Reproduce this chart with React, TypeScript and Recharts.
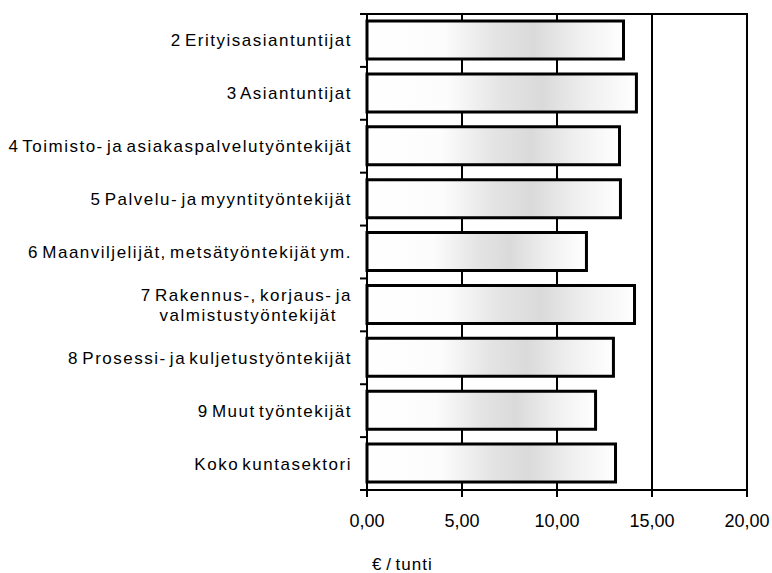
import React from "react";
import {
  Bar,
  BarChart,
  CartesianGrid,
  ReferenceArea,
  XAxis,
  YAxis,
} from "recharts";

// ammattiryhmät ja keskimääräinen €/tunti
const categories = [
  "2 Erityisasiantuntijat",
  "3 Asiantuntijat",
  "4 Toimisto- ja asiakaspalvelutyöntekijät",
  "5 Palvelu- ja myyntityöntekijät",
  "6 Maanviljelijät, metsätyöntekijät ym.",
  "7 Rakennus-, korjaus- ja\nvalmistustyöntekijät",
  "8 Prosessi- ja kuljetustyöntekijät",
  "9 Muut työntekijät",
  "Koko kuntasektori",
];
const values = [13.5, 14.18, 13.29, 13.34, 11.55, 14.08, 12.97, 12.03, 13.08];
const xTicks = [0, 5, 10, 15, 20];

const data = categories.map((name, i) => ({ name, value: values[i] }));

const W = 772;
const H = 573;
const TOP = 14;
const X_AXIS_H = 30;
const BOTTOM = 53;
const BAND = (H - TOP - X_AXIS_H - BOTTOM) / categories.length;
const FONT = '"Liberation Sans", Arial, sans-serif';

const fmt = (v: number) => v.toFixed(2).replace(".", ",");

function CategoryTick(props: any) {
  const { x, y, payload, index } = props;
  const lines = String(payload.value).split("\n");
  const axisX = x + 15;
  const half = BAND / 2;
  return (
    <g>
      <line x1={axisX - 7} x2={axisX} y1={y - half} y2={y - half} stroke="#000" strokeWidth={2} />
      {index === categories.length - 1 && (
        <line x1={axisX - 7} x2={axisX} y1={y + half} y2={y + half} stroke="#000" strokeWidth={2} />
      )}
      {lines.map((line, i) => (
        <text
          key={i}
          x={i === 0 ? x : x - 15}
          y={y + (i - (lines.length - 1) / 2) * 20}
          dy="0.35em"
          textAnchor="end"
          fill="#000"
          fontSize={17}
          letterSpacing={1.5}
          wordSpacing={-3}
          fontFamily={FONT}
        >
          {line}
        </text>
      ))}
    </g>
  );
}

export default function App() {
  return (
    <div style={{ position: "absolute", left: 0, top: 0, width: W, height: H, background: "#fff" }}>
      <BarChart
        width={W}
        height={H}
        data={data}
        layout="vertical"
        margin={{ top: TOP, right: 25, bottom: BOTTOM, left: 0 }}
      >
        <defs>
          <linearGradient id="scanFill" x1="0" y1="0" x2="1" y2="0">
            <stop offset="0%" stopColor="#ffffff" />
            <stop offset="30%" stopColor="#fcfcfc" />
            <stop offset="50%" stopColor="#e4e4e4" />
            <stop offset="65%" stopColor="#dadada" />
            <stop offset="82%" stopColor="#efefef" />
            <stop offset="100%" stopColor="#ffffff" />
          </linearGradient>
        </defs>
        <CartesianGrid horizontal={false} stroke="#000" strokeWidth={2} />
        <XAxis
          type="number"
          domain={[0, 20]}
          ticks={xTicks}
          tickFormatter={fmt}
          height={X_AXIS_H}
          stroke="#000"
          strokeWidth={2}
          tickSize={7}
          tickMargin={17}
          tick={{ fill: "#000", fontSize: 18, fontFamily: FONT }}
          label={{
            content: ({ viewBox }: any) => (
              <text
                x={viewBox.x + 5}
                y={viewBox.y + 80}
                fill="#000"
                fontSize={17}
                letterSpacing={1}
                wordSpacing={-2}
                fontFamily={FONT}
              >
                € / tunti
              </text>
            ),
          }}
        />
        <YAxis
          type="category"
          dataKey="name"
          width={367}
          tickLine={false}
          tickSize={15}
          tickMargin={0}
          stroke="#000"
          strokeWidth={2}
          interval={0}
          tick={<CategoryTick />}
        />
        <ReferenceArea x1={0} x2={20} fill="none" stroke="#000" strokeWidth={2} />
        <Bar
          dataKey="value"
          barSize={38}
          fill="url(#scanFill)"
          stroke="#000"
          strokeWidth={3}
          isAnimationActive={false}
        />
      </BarChart>
    </div>
  );
}
